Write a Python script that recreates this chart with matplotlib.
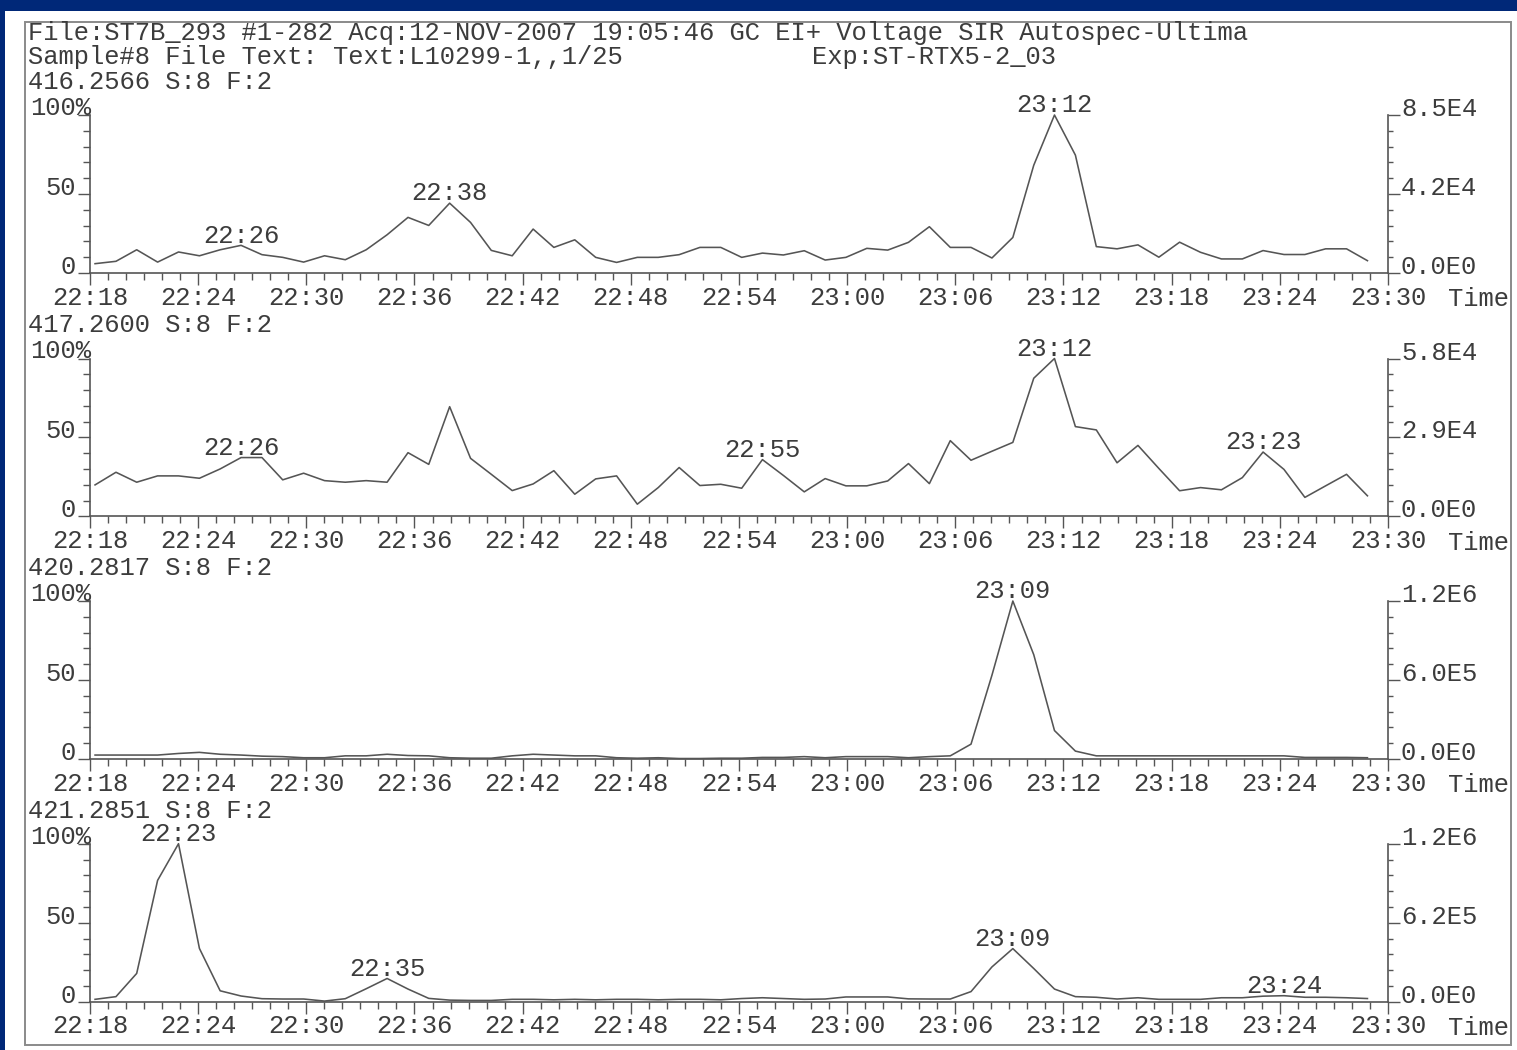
import matplotlib
matplotlib.use("Agg")
import matplotlib.pyplot as plt
from matplotlib.patches import Rectangle

# ---------------- data ----------------
# retention time in minutes after 22:00 (sample positions)
TIME_MIN = [18.28, 19.44, 20.59, 21.75, 22.91, 24.07, 25.22, 26.38, 27.54, 28.69,
            29.85, 31.01, 32.16, 33.32, 34.48, 35.64, 36.79, 37.95, 39.11, 40.26,
            41.42, 42.58, 43.73, 44.89, 46.05, 47.21, 48.36, 49.52, 50.68, 51.83,
            52.99, 54.15, 55.30, 56.46, 57.62, 58.78, 59.93, 61.09, 62.25, 63.40,
            64.56, 65.72, 66.87, 68.03, 69.19, 70.35, 71.50, 72.66, 73.82, 74.97,
            76.13, 77.29, 78.44, 79.60, 80.76, 81.92, 83.07, 84.23, 85.39, 86.54,
            87.70, 88.86]

# relative intensity (%) for each SIR channel
S416 = [5.9, 7.4, 14.7, 6.9, 13.3, 10.9, 14.7, 17.5, 11.6, 9.9,
        6.9, 10.9, 8.4, 14.7, 24.2, 35.2, 30.1, 44.2, 32.0, 14.3,
        10.9, 27.8, 16.2, 21.0, 9.9, 6.7, 9.9, 9.9, 11.6, 16.2,
        16.2, 9.9, 12.6, 11.4, 14.1, 8.2, 9.9, 15.6, 14.5, 19.4,
        29.3, 16.2, 16.2, 9.5, 22.5, 68.2, 100.0, 74.6, 16.7, 15.3,
        17.8, 10.0, 19.5, 13.1, 8.9, 8.9, 14.2, 11.7, 11.7, 15.3,
        15.3, 7.8]
S417 = [20.0, 28.0, 21.7, 25.7, 25.7, 24.2, 30.1, 37.3, 37.3, 23.2,
        27.4, 22.7, 21.7, 22.7, 21.7, 40.4, 33.0, 69.5, 36.8, 26.7,
        16.4, 20.6, 29.0, 14.1, 23.8, 25.7, 7.8, 18.3, 31.0, 19.6,
        20.4, 17.9, 36.0, 26.0, 15.6, 24.0, 19.4, 19.4, 22.5, 33.5,
        20.8, 48.0, 35.6, 41.3, 46.9, 87.5, 100.0, 56.9, 54.8, 34.0,
        45.0, 30.4, 16.3, 18.3, 16.9, 24.6, 40.8, 29.8, 12.1, 19.4,
        26.7, 13.1]
S420 = [2.5, 2.5, 2.5, 2.5, 3.5, 4.2, 3.0, 2.5, 1.8, 1.5,
        0.8, 0.8, 2.0, 2.0, 3.0, 2.2, 2.0, 0.8, 0.5, 0.5,
        2.0, 3.0, 2.5, 2.0, 2.0, 0.8, 0.5, 0.8, 0.3, 0.3,
        0.5, 0.5, 1.0, 1.0, 1.5, 0.8, 1.5, 1.5, 1.5, 0.8,
        1.5, 2.0, 9.4, 53.0, 100.0, 66.0, 18.0, 5.0, 2.0, 2.0,
        2.0, 2.0, 2.0, 2.0, 2.0, 2.0, 2.0, 2.0, 1.0, 1.0,
        1.0, 0.8]
S421 = [1.5, 3.2, 17.9, 76.8, 100.0, 33.7, 6.9, 3.6, 1.9, 1.7,
        1.7, 0.4, 1.9, 8.2, 14.7, 8.0, 2.1, 1.0, 0.8, 0.8,
        1.5, 1.5, 1.2, 1.5, 1.2, 1.5, 1.5, 1.2, 1.5, 1.5,
        1.2, 2.0, 2.5, 2.0, 1.5, 1.7, 3.0, 3.0, 3.0, 1.8,
        1.7, 1.7, 6.4, 22.0, 33.6, 21.0, 8.0, 3.2, 2.8, 1.7,
        2.5, 1.5, 1.5, 1.5, 2.5, 2.5, 3.5, 3.8, 2.8, 2.8,
        2.5, 2.0]

CHANNEL_TITLES = ["416.2566 S:8 F:2", "417.2600 S:8 F:2",
                  "420.2817 S:8 F:2", "421.2851 S:8 F:2"]
RIGHT_LABELS = [["0.0E0", "4.2E4", "8.5E4"],
                ["0.0E0", "2.9E4", "5.8E4"],
                ["0.0E0", "6.0E5", "1.2E6"],
                ["0.0E0", "6.2E5", "1.2E6"]]
LEFT_LABELS = ["0", "50", "100%"]
# peak annotations: (label, sample index)
PEAKS = [[("22:26", 7), ("22:38", 17), ("23:12", 46)],
         [("22:26", 7), ("22:55", 32), ("23:12", 46), ("23:23", 56)],
         [("23:09", 44)],
         [("22:23", 4), ("22:35", 14), ("23:09", 44), ("23:24", 57)]]
TICK_MIN = [18, 24, 30, 36, 42, 48, 54, 60, 66, 72, 78, 84, 90]
TICK_LABELS = ["22:18", "22:24", "22:30", "22:36", "22:42", "22:48", "22:54",
               "23:00", "23:06", "23:12", "23:18", "23:24", "23:30"]
HEADER1 = "File:ST7B_293 #1-282 Acq:12-NOV-2007 19:05:46 GC EI+ Voltage SIR Autospec-Ultima"
HEADER2 = "Sample#8 File Text: Text:L10299-1,,1/25"
HEADER3 = "Exp:ST-RTX5-2_03"

SERIES = [S416, S417, S420, S421]

# ---------------- style ----------------
W, H = 1517, 1050
FONT = "Liberation Mono"
FS = 18.4
TXT = "#3c3c3c"
LINE = "#555555"
BLUE = "#002878"
PT = 72.0 / 100.0  # points per pixel

fig = plt.figure(figsize=(W / 100, H / 100), dpi=100, facecolor="white")

# scan background: blue band top and left, gray frame
fig.patches.append(Rectangle((0, 1 - 11 / H), 1, 11 / H, transform=fig.transFigure,
                             facecolor=BLUE, edgecolor="none", zorder=0))
fig.patches.append(Rectangle((0, 0), 5 / W, 1, transform=fig.transFigure,
                             facecolor=BLUE, edgecolor="none", zorder=0))
fig.patches.append(Rectangle((25 / W, 1 - 1045 / H), (1511 - 25) / W, (1045 - 22) / H,
                             transform=fig.transFigure, facecolor="none",
                             edgecolor="#8a8a8a", lw=1.4, zorder=1))


def ftext(x, y, s, ha="left", va="center"):
    fig.text(x / W, 1 - y / H, s, ha=ha, va=va, family=FONT, fontsize=FS, color=TXT)


ftext(28, 33, HEADER1)
ftext(28, 57, HEADER2)
ftext(812, 57, HEADER3)

X0, X1 = 90, 1388
BASES = [273, 516.5, 759, 1001.7]
HGT = 158

for k in range(4):
    base = BASES[k]
    ax = fig.add_axes([X0 / W, 1 - base / H, (X1 - X0) / W, HGT / H])
    ax.patch.set_alpha(0)
    ax.set_xlim(18, 90)
    ax.set_ylim(0, 100)
    for s in ["top", "right"]:
        ax.spines[s].set_visible(False)
    for s in ["left", "bottom"]:
        ax.spines[s].set_color(LINE)
        ax.spines[s].set_linewidth(1.2)

    ax.plot(TIME_MIN, SERIES[k], color=LINE, lw=1.15, clip_on=False, zorder=3)

    # x axis
    ax.set_xticks(TICK_MIN)
    ax.set_xticklabels(TICK_LABELS, family=FONT, fontsize=FS, color=TXT)
    ax.set_xticks(list(range(18, 91)), minor=True)
    ax.tick_params(axis="x", which="major", direction="out", length=12 * PT,
                   width=1.0, color=LINE, pad=0.5)
    ax.tick_params(axis="x", which="minor", direction="out", length=7 * PT,
                   width=1.0, color=LINE)

    # left y axis
    ax.set_yticks([0, 50, 100])
    ax.set_yticklabels([])
    ax.set_yticks([10, 20, 30, 40, 60, 70, 80, 90], minor=True)
    ax.tick_params(axis="y", which="major", direction="out", length=12 * PT,
                   width=1.0, color=LINE, left=True, right=False)
    ax.tick_params(axis="y", which="minor", direction="out", length=7 * PT,
                   width=1.0, color=LINE, left=True, right=False)

    # right y axis
    axr = ax.twinx()
    axr.set_ylim(0, 100)
    for s in ["top", "left", "bottom"]:
        axr.spines[s].set_visible(False)
    axr.spines["right"].set_color(LINE)
    axr.spines["right"].set_linewidth(1.2)
    axr.set_yticks([0, 50, 100])
    axr.set_yticklabels([])
    axr.set_yticks([10, 20, 30, 40, 60, 70, 80, 90], minor=True)
    axr.tick_params(axis="y", which="major", direction="out", length=12 * PT,
                    width=1.0, color=LINE)
    axr.tick_params(axis="y", which="minor", direction="out", length=5 * PT,
                    width=1.0, color=LINE)

    ytr = ax.get_yaxis_transform()
    for val, lab in zip([0, 50, 100], LEFT_LABELS):
        dx = 1 if lab.endswith("%") else -14
        dy = 0 if lab.endswith("%") else -1
        ax.annotate(lab, xy=(0, val), xycoords=ytr, xytext=(dx * PT, dy * PT),
                    textcoords="offset points", ha="right", va="baseline",
                    family=FONT, fontsize=FS, color=TXT, annotation_clip=False)
    for val, lab in zip([0, 50, 100], RIGHT_LABELS[k]):
        ax.annotate(lab, xy=(1, val), xycoords=ytr, xytext=(13 * PT, -1 * PT),
                    textcoords="offset points", ha="left", va="baseline",
                    family=FONT, fontsize=FS, color=TXT, annotation_clip=False)

    # peak labels
    for lab, idx in PEAKS[k]:
        ax.annotate(lab, xy=(TIME_MIN[idx], SERIES[k][idx]), xytext=(0, 2),
                    textcoords="offset points", ha="center", va="baseline",
                    family=FONT, fontsize=FS, color=TXT, annotation_clip=False,
                    zorder=4)

    ftext(1448, base + 26, "Time")
    ftext(28, base - HGT - 33, CHANNEL_TITLES[k])

fig.savefig("out.png", dpi=100, facecolor="white")
